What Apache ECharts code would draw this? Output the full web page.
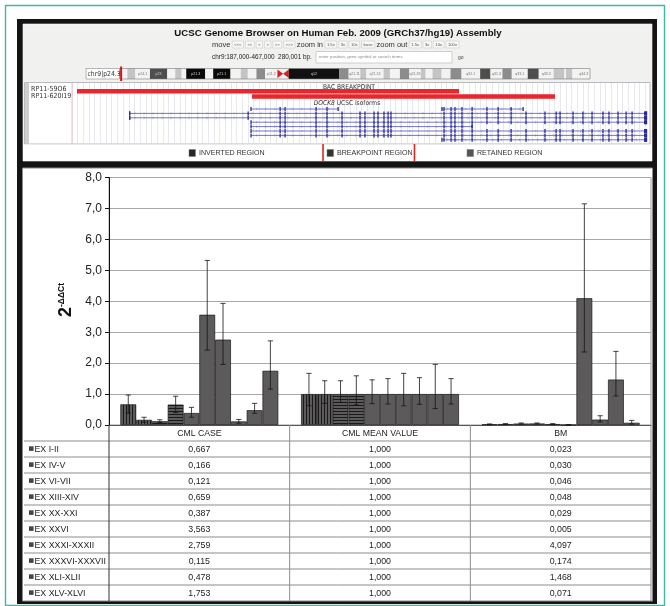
<!DOCTYPE html>
<html><head><meta charset="utf-8">
<script src="https://cdn.jsdelivr.net/npm/echarts@6/dist/echarts.min.js"></script>
<style>html,body{margin:0;padding:0;background:#fff}#c{width:670px;height:606px}</style>
</head><body><div id="c"></div>
<script>
// ---------------- data: qPCR chart ----------------
const categories = ['CML CASE', 'CML MEAN VALUE', 'BM'];
const exonLabels = ['EX I-II', 'EX IV-V', 'EX VI-VII', 'EX XIII-XIV', 'EX XX-XXI', 'EX XXVI',
  'EX XXXI-XXXII', 'EX XXXVI-XXXVII', 'EX XLI-XLII', 'EX XLV-XLVI'];
const cmlCase = [0.667, 0.166, 0.121, 0.659, 0.387, 3.563, 2.759, 0.115, 0.478, 1.753];
const cmlMean = [1.000, 1.000, 1.000, 1.000, 1.000, 1.000, 1.000, 1.000, 1.000, 1.000];
const bm = [0.023, 0.030, 0.046, 0.048, 0.029, 0.005, 4.097, 0.174, 1.468, 0.071];
// error bar ends (upper / lower)
const cmlCaseHigh = [0.97, 0.25, 0.17, 0.93, 0.57, 5.32, 3.93, 0.18, 0.70, 2.72];
const cmlCaseLow = [0.38, 0.09, 0.08, 0.40, 0.25, 2.42, 1.96, 0.06, 0.38, 1.16];
const cmlMeanHigh = [1.67, 1.43, 1.43, 1.59, 1.46, 1.50, 1.67, 1.53, 1.96, 1.50];
const cmlMeanLow = [0.62, 0.70, 0.73, 0.65, 0.69, 0.68, 0.62, 0.67, 0.53, 0.68];
const bmHigh = [0.035, 0.045, 0.065, 0.065, 0.045, 0.012, 7.15, 0.30, 2.38, 0.15];
const bmLow = [0.012, 0.018, 0.030, 0.032, 0.015, 0.002, 2.36, 0.10, 0.94, 0.03];
const yMin = 0, yMax = 8, yInterval = 1;

// ---------------- data: genome browser header ----------------
const viewStartKb = 187, viewEndKb = 467, gridStepKb = 2.75;
const bacClones = [
  { name: 'RP11-59O6', start: 189.4, end: 374.5 },
  { name: 'RP11-620I19', start: 274.2, end: 421.0 }
];
const dock8ExonsKb = [214.9, 272.3, 287.8, 290.2, 305.2, 310.5, 317.8, 326.5, 328.9, 333.3, 335.2, 338.1,
  340.1, 341.5, 367.2, 370.6, 372.5, 375.9, 380.8, 388.0, 393.4, 399.7, 406.9, 416.1, 421.5, 423.4,
  429.7, 434.5, 438.9, 444.2, 447.1, 451.5, 455.4, 458.3, 465.0];
const isoformStart = [273.7, 366.2, 214.9, 214.9, 273.7, 273.7, 273.7, 273.7, 366.2];
const isoformEnd = [315.9, 405.5, 465.3, 465.3, 465.3, 380.8, 465.3, 465.3, 465.3];
const isoformRow = [0, 0, 1, 2, 3, 4, 5, 6, 7];
const regionBoundsKb = [308.6, 352.9];
const legendRegions = ['INVERTED REGION', 'BREAKPOINT REGION', 'RETAINED REGION'];
const chr9LengthMb = 141.2;
const chr9Bands = [
  ['p24.3', 0, 2.2, 'gneg'], ['p24.2', 2.2, 4.6, 'gpos25'], ['p24.1', 4.6, 9.0, 'gneg'],
  ['p23', 9.0, 14.2, 'gpos75'], ['p22.3', 14.2, 16.6, 'gneg'], ['p22.2', 16.6, 18.5, 'gpos25'],
  ['p22.1', 18.5, 19.9, 'gneg'], ['p21.3', 19.9, 25.6, 'gpos100'], ['p21.2', 25.6, 28.0, 'gneg'],
  ['p21.1', 28.0, 33.2, 'gpos100'], ['p13.3', 33.2, 36.3, 'gneg'], ['p13.2', 36.3, 38.4, 'gpos25'],
  ['p13.1', 38.4, 41.0, 'gneg'], ['p12', 41.0, 43.6, 'gpos50'], ['p11.2', 43.6, 47.3, 'gneg'],
  ['p11.1', 47.3, 49.0, 'acenL'], ['q11', 49.0, 50.7, 'acenR'], ['q12', 50.7, 65.9, 'gvar'],
  ['q13', 65.9, 68.7, 'gpos50'], ['q21.11', 68.7, 72.2, 'gneg'], ['q21.12', 72.2, 74.0, 'gpos25'],
  ['q21.13', 74.0, 79.2, 'gneg'], ['q21.2', 79.2, 81.1, 'gpos25'], ['q21.31', 81.1, 84.1, 'gneg'],
  ['q21.32', 84.1, 86.9, 'gpos50'], ['q21.33', 86.9, 90.4, 'gneg'], ['q22.1', 90.4, 91.8, 'gpos25'],
  ['q22.2', 91.8, 93.9, 'gneg'], ['q22.31', 93.9, 96.6, 'gpos25'], ['q22.32', 96.6, 99.3, 'gneg'],
  ['q22.33', 99.3, 102.6, 'gpos50'], ['q31.1', 102.6, 108.2, 'gneg'], ['q31.2', 108.2, 111.3, 'gpos75'],
  ['q31.3', 111.3, 114.9, 'gneg'], ['q32', 114.9, 117.7, 'gpos50'], ['q33.1', 117.7, 122.5, 'gneg'],
  ['q33.2', 122.5, 125.8, 'gpos75'], ['q33.3', 125.8, 130.3, 'gneg'], ['q34.11', 130.3, 133.5, 'gpos25'],
  ['q34.12', 133.5, 134.0, 'gneg'], ['q34.13', 134.0, 135.9, 'gpos25'], ['q34.2', 135.9, 137.4, 'gneg'],
  ['q34.3', 137.4, 141.2, 'gneg']
];

// ---------------- styles ----------------
const FONT = "'Liberation Sans', Arial, Helvetica, sans-serif";
const NARROW = "'Liberation Sans Narrow', 'DejaVu Sans Condensed', 'Liberation Sans', sans-serif";
const TEAL = '#41b7a5';
const seriesPattern = ['v', 'v', 'h', 'h', 's', 's', 's', 's', 's', 's'];
const stainColor = { gneg: '#f3f3f3', gpos25: '#c4c4c4', gpos50: '#8c8c8c', gpos75: '#4e4e4e', gpos100: '#0a0a0a', gvar: '#111', acenL: '#d42020', acenR: '#d42020' };
const CAT_GAP = 0.126;

function stripeCanvas(vertical) {
  const c = document.createElement('canvas'); c.width = 3; c.height = 3;
  const g = c.getContext('2d');
  g.fillStyle = '#5c5a5a'; g.fillRect(0, 0, 3, 3);
  g.fillStyle = '#1a1a1a';
  if (vertical) g.fillRect(0, 0, 1, 3); else g.fillRect(0, 0, 3, 1);
  return c;
}
const vPat = { image: stripeCanvas(true), repeat: 'repeat' };
const hPat = { image: stripeCanvas(false), repeat: 'repeat' };
function barStyle(i) {
  const p = seriesPattern[i];
  return { color: p === 'v' ? vPat : p === 'h' ? hPat : '#5c5a5a', borderColor: '#1a1a1a', borderWidth: 0.7 };
}
const fmt3 = v => v.toFixed(3).replace('.', ',');

const groupsVal = [cmlCase, cmlMean, bm];
const groupsHigh = [cmlCaseHigh, cmlMeanHigh, bmHigh];
const groupsLow = [cmlCaseLow, cmlMeanLow, bmLow];

const barSeries = exonLabels.map((name, i) => ({
  type: 'bar', name, xAxisIndex: 0, yAxisIndex: 0,
  data: groupsVal.map(g => g[i]),
  barGap: '0%', barCategoryGap: (CAT_GAP * 100) + '%',
  itemStyle: barStyle(i), silent: true
}));

const errData = [];
groupsVal.forEach((g, c) => g.forEach((v, i) => errData.push([c, groupsLow[c][i], groupsHigh[c][i], i])));

const errSeries = {
  type: 'custom', xAxisIndex: 0, yAxisIndex: 0, z: 4, silent: true,
  data: errData, encode: { x: 0, y: [1, 2] },
  renderItem: function (params, api) {
    const c = api.value(0), lo = api.value(1), hi = api.value(2), si = api.value(3);
    const pLo = api.coord([c, lo]), pHi = api.coord([c, hi]);
    const band = api.size([1, 0])[0];
    const gw = band * (1 - CAT_GAP), bw = gw / exonLabels.length;
    const x = pLo[0] - gw / 2 + bw * (si + 0.5);
    const cap = 2.6, st = { stroke: '#151515', lineWidth: 0.8 };
    return { type: 'group', children: [
      { type: 'line', shape: { x1: x, y1: pHi[1], x2: x, y2: pLo[1] }, style: st },
      { type: 'line', shape: { x1: x - cap, y1: pHi[1], x2: x + cap, y2: pHi[1] }, style: st },
      { type: 'line', shape: { x1: x - cap, y1: pLo[1], x2: x + cap, y2: pLo[1] }, style: st }
    ]};
  }
};

const bacSeries = {
  type: 'custom', xAxisIndex: 1, yAxisIndex: 1, silent: true, z: 3,
  data: bacClones.map(b => [b.start, b.end, 0]), encode: { x: [0, 1], y: 2 },
  renderItem: function (params, api) {
    const x0 = api.coord([api.value(0), 0])[0], x1 = api.coord([api.value(1), 0])[0];
    const y = params.coordSys.y + 6 + params.dataIndex * 5.2;
    return { type: 'rect', shape: { x: x0, y: y, width: x1 - x0, height: 4.6 }, style: { fill: '#e8262b' } };
  }
};

const isoSeries = {
  type: 'custom', xAxisIndex: 1, yAxisIndex: 1, silent: true, z: 3,
  data: isoformStart.map((s, i) => [s, isoformEnd[i], isoformRow[i]]), encode: { x: [0, 1], y: 2 },
  renderItem: function (params, api) {
    const s = api.value(0), e = api.value(1), row = api.value(2);
    const x0 = api.coord([s, 0])[0], x1 = api.coord([e, 0])[0];
    const y = params.coordSys.y + 26 + row * 4.4;
    const ch = [{ type: 'line', shape: { x1: x0, y1: y, x2: x1, y2: y }, style: { stroke: '#5050bd', lineWidth: 0.8 } }];
    for (let x = x0 + 6; x < x1 - 3; x += 9) {
      ch.push({ type: 'polyline', shape: { points: [[x - 1, y - 1.2], [x + 0.3, y], [x - 1, y + 1.2]] }, style: { stroke: '#6a6ac8', lineWidth: 0.4, fill: null } });
    }
    const ex = dock8ExonsKb.filter(k => k >= s - 1.2 && k <= e + 1.2);
    ex.push(s, e);
    ex.forEach(k => {
      const xx = api.coord([k, 0])[0];
      ch.push({ type: 'rect', shape: { x: xx - 0.6, y: y - 2, width: 1.3, height: 4 }, style: { fill: '#2a2a98' } });
    });
    if (e > 460) ch.push({ type: 'rect', shape: { x: x1 - 2.5, y: y - 2, width: 2.5, height: 4 }, style: { fill: '#2a2a98' } });
    return { type: 'group', children: ch };
  }
};

const regionLineSeries = {
  type: 'custom', xAxisIndex: 1, yAxisIndex: 1, silent: true, z: 6,
  data: regionBoundsKb.map(k => [k, 0]), encode: { x: 0, y: 1 },
  renderItem: function (params, api) {
    const x = api.coord([api.value(0), 0])[0];
    const yb = params.coordSys.y + params.coordSys.height;
    return { type: 'line', shape: { x1: x, y1: yb, x2: x, y2: yb + 17 }, style: { stroke: '#e02424', lineWidth: 1.6 } };
  }
};

const bandSeries = {
  type: 'custom', xAxisIndex: 2, yAxisIndex: 2, silent: true, z: 2,
  data: chr9Bands.map(b => [b[1], b[2], 0]), encode: { x: [0, 1], y: 2 },
  renderItem: function (params, api) {
    const b = chr9Bands[params.dataIndex];
    const x0 = api.coord([b[1], 0])[0], x1 = api.coord([b[2], 0])[0];
    const cs = params.coordSys, y = cs.y, h = cs.height;
    const col = stainColor[b[3]];
    if (b[3] === 'acenL') return { type: 'polygon', shape: { points: [[x0, y + 1], [x1, y + h / 2], [x0, y + h - 1]] }, style: { fill: col } };
    if (b[3] === 'acenR') return { type: 'polygon', shape: { points: [[x1, y + 1], [x0, y + h / 2], [x1, y + h - 1]] }, style: { fill: col } };
    const ch = [{ type: 'rect', shape: { x: x0, y: y, width: x1 - x0, height: h }, style: { fill: col } }];
    if (x1 - x0 > 11) {
      const dark = ['gpos75', 'gpos100', 'gvar', 'gpos50'].indexOf(b[3]) >= 0;
      ch.push({ type: 'text', x: (x0 + x1) / 2, y: y + h / 2, style: { text: b[0], fontSize: 3.6, fontFamily: FONT, fill: dark ? '#cfcfcf' : '#777', align: 'center', verticalAlign: 'middle', textAlign: 'center', textVerticalAlign: 'middle' } });
    }
    return { type: 'group', children: ch };
  }
};

const viewMarkSeries = {
  type: 'custom', xAxisIndex: 2, yAxisIndex: 2, silent: true, z: 5,
  data: [[viewStartKb / 1000, viewEndKb / 1000, 0]], encode: { x: [0, 1], y: 2 },
  renderItem: function (params, api) {
    const x0 = api.coord([api.value(0), 0])[0], x1 = api.coord([api.value(1), 0])[0];
    const cs = params.coordSys;
    return { type: 'rect', shape: { x: x0 - 0.5, y: cs.y - 2, width: Math.max(2, x1 - x0), height: cs.height + 4 }, style: { fill: '#e01010' } };
  }
};

const option = {
  animation: false,
  backgroundColor: '#fff',
  grid: [
    { left: 109, top: 177.5, width: 542, height: 247.5, show: true, borderColor: '#9c9c9c', borderWidth: 1, backgroundColor: 'transparent' },
    { left: 72, top: 83, width: 578, height: 61 },
    { left: 120, top: 68.5, width: 470, height: 10.5 }
  ],
  xAxis: [
    { gridIndex: 0, type: 'category', data: categories, axisLabel: { show: false }, axisTick: { show: false },
      axisLine: { lineStyle: { color: '#a83232', width: 1 } }, splitLine: { show: false } },
    { gridIndex: 1, type: 'value', min: viewStartKb, max: viewEndKb, interval: gridStepKb,
      axisLabel: { show: false }, axisTick: { show: false }, axisLine: { show: false },
      splitLine: { show: true, lineStyle: { color: '#d8d8e2', width: 0.6 } } },
    { gridIndex: 2, type: 'value', min: 0, max: chr9LengthMb, show: false }
  ],
  yAxis: [
    { gridIndex: 0, type: 'value', min: yMin, max: yMax, interval: yInterval,
      axisLine: { show: true, lineStyle: { color: '#111', width: 1 } },
      axisTick: { show: true, length: 4, lineStyle: { color: '#111' } },
      axisLabel: { formatter: v => v.toFixed(1).replace('.', ','), fontSize: 12, color: '#222', margin: 7, fontFamily: FONT },
      splitLine: { show: true, lineStyle: { color: '#a8a8a8', width: 1 } } },
    { gridIndex: 1, type: 'value', min: 0, max: 1, show: false },
    { gridIndex: 2, type: 'value', min: 0, max: 1, show: false }
  ],
  series: [...barSeries, errSeries, bacSeries, isoSeries, regionLineSeries, bandSeries, viewMarkSeries]
};

const chart = echarts.init(document.getElementById('c'));
chart.setOption(option);

// ---------------- graphics: frames, header texts, table ----------------
const G = [];
const al = a => ({ align: a, textAlign: a, verticalAlign: 'middle', textVerticalAlign: 'middle' });
function rect(x, y, w, h, fill, stroke, lw, z) {
  return { type: 'rect', z: z, silent: true, shape: { x, y, width: w, height: h }, style: { fill: fill, stroke: stroke || null, lineWidth: lw || 0 } };
}
function line(x1, y1, x2, y2, stroke, lw, z) {
  return { type: 'line', z: z == null ? 8 : z, silent: true, shape: { x1, y1, x2, y2 }, style: { stroke, lineWidth: lw || 1 } };
}
function text(x, y, t, o) {
  o = o || {};
  return { type: 'text', z: o.z == null ? 10 : o.z, silent: true, x, y,
    style: Object.assign({ text: t, fill: o.fill || '#222', fontSize: o.size || 9, fontFamily: o.family || FONT,
      fontWeight: o.weight || 'normal', fontStyle: o.fstyle || 'normal' }, al(o.align || 'left')) };
}
const mctx = document.createElement('canvas').getContext('2d');
const measure = (t, s, fam, w) => { mctx.font = (w || 'normal') + ' ' + s + 'px ' + (fam || FONT); return mctx.measureText(t).width; };
const fitSize = (t, target, fam, w) => 10 * target / measure(t, 10, fam, w);

// frames
G.push(rect(5.5, 5.5, 659, 600, '#fff', TEAL, 1.4, -20));
G.push(rect(17, 19, 640, 585, '#141414', null, 0, -19));
G.push(rect(23, 24, 629, 137, '#f1f1ef', '#fafafa', 0.6, -18));
G.push(rect(24.5, 82.5, 625.5, 61.5, '#fff', '#a9a9a9', 0.8, -17));
G.push(rect(25, 83, 4, 61, '#cdcdcd', null, 0, -16));
G.push(rect(23, 144.5, 629, 16.5, '#fff', null, 0, -17));
G.push(rect(22.5, 168, 630, 433, '#fff', '#8a8a8a', 1, -18));

// header title and navigation
const titleText = 'UCSC Genome Browser on Human Feb. 2009 (GRCh37/hg19) Assembly';
G.push(text(338, 33.5, titleText, { size: Math.min(11, fitSize(titleText, 328, FONT, 'bold')), weight: 'bold', align: 'center', fill: '#111' }));
const navItems = [['l', 'move'], ['b', '<<<'], ['b', '<<'], ['b', '<'], ['b', '>'], ['b', '>>'], ['b', '>>>'],
  ['l', 'zoom in'], ['b', '1.5x'], ['b', '3x'], ['b', '10x'], ['b', 'base'],
  ['l', 'zoom out'], ['b', '1.5x'], ['b', '3x'], ['b', '10x'], ['b', '100x']];
const navW = navItems.map(it => it[0] === 'l' ? measure(it[1], 7.5) : measure(it[1], 4.2) + 4);
const navStart = 212, navEnd = 459;
const navGap = (navEnd - navStart - navW.reduce((a, b) => a + b, 0)) / (navItems.length - 1);
let nx = navStart;
navItems.forEach((it, i) => {
  if (it[0] === 'l') G.push(text(nx, 44.5, it[1], { size: 7.5, fill: '#333' }));
  else {
    G.push(rect(nx, 41, navW[i], 7, '#f8f8f8', '#c4c4c4', 0.5, 1));
    G.push(text(nx + navW[i] / 2, 44.6, it[1], { size: 4.2, fill: '#555', align: 'center' }));
  }
  nx += navW[i] + navGap;
});
const posText = 'chr9:187,000-467,000  280,001 bp.';
G.push(text(212, 57.5, posText, { size: Math.min(8, fitSize(posText, 100, FONT)), fill: '#222' }));
G.push(rect(316, 51.5, 136, 11.5, '#fff', '#b4b4b4', 0.6, 1));
G.push(text(319, 57.3, 'enter position, gene symbol or search terms', { size: 4.3, fill: '#8a8a8a' }));
G.push(text(458, 57.5, 'go', { size: 5, fill: '#444' }));

// ideogram label and frame
G.push(rect(86, 68.5, 33.5, 10.5, '#fff', '#8a8a8a', 0.6, 1));
G.push(text(87.5, 74, 'chr9|p24.3', { size: 6.8, fill: '#333', family: NARROW }));
G.push(rect(120, 68.5, 470, 10.5, 'transparent', '#7a7a7a', 0.6, 4));

// track labels
const trackLeft = chart.convertToPixel({ xAxisIndex: 1 }, viewStartKb);
G.push(line(trackLeft, 83, trackLeft, 144, '#f2b4b4', 0.8, 1));
bacClones.forEach((b, i) => G.push(text(31, 89.2 + i * 7.4, b.name, { size: 7, fill: '#333', family: NARROW })));
G.push(text(349, 87, 'BAC BREAKPOINT', { size: 6.6, fill: '#333', family: NARROW, align: 'center' }));
G.push({ type: 'text', z: 10, silent: true, x: 347, y: 103.2,
  style: Object.assign({ text: '{i|DOCK8} UCSC isoforms', fontSize: 6.6, fontFamily: NARROW, fill: '#333',
    rich: { i: { fontStyle: 'italic', fontSize: 6.6, fontFamily: NARROW, fill: '#333', color: '#333' } } }, al('center')) });

// legend row
const legendX = [189, 327, 467];
const legendFill = ['#262626', '#333', '#555'];
legendRegions.forEach((t, i) => {
  G.push(rect(legendX[i], 149.5, 6.5, 7, legendFill[i], '#777', 0.5, 2));
  G.push(text(legendX[i] + 10, 153.2, t, { size: 7.1, fill: '#333' }));
});

// y axis name
G.push({ type: 'text', z: 10, silent: true, x: 66, y: 300, rotation: Math.PI / 2,
  style: Object.assign({ text: '{b|2}{s|-ΔΔCt}',
    rich: { b: { fontSize: 18, fontWeight: 'bold', fontFamily: FONT, fill: '#111', color: '#111' },
            s: { fontSize: 8.5, fontWeight: 'bold', fontFamily: FONT, fill: '#111', color: '#111', verticalAlign: 'top' } } }, al('center')) });

// data table
const zeroY = chart.convertToPixel({ yAxisIndex: 0 }, 0);
const rowH = 16;
const centers = categories.map(c => chart.convertToPixel({ xAxisIndex: 0 }, c));
const bandW = centers.length > 1 ? centers[1] - centers[0] : 180;
const colEdges = [centers[0] - bandW / 2].concat(centers.map(c => c + bandW / 2));
const tableLeft = 24, tableRight = colEdges[colEdges.length - 1];
const tableBottom = zeroY + rowH * (exonLabels.length + 1);
for (let k = 1; k <= exonLabels.length; k++) G.push(line(tableLeft, zeroY + rowH * k, tableRight, zeroY + rowH * k, '#8c8c8c', 1));
colEdges.forEach((x, i) => G.push(line(x, zeroY, x, tableBottom, i === 0 ? '#333' : '#8c8c8c', 1)));
categories.forEach((c, i) => G.push(text(centers[i], zeroY + rowH / 2 + 0.5, c, { size: 8.7, align: 'center', fill: '#222' })));
exonLabels.forEach((lab, r) => {
  const yc = zeroY + rowH * (r + 1) + rowH / 2 + 0.3;
  G.push(rect(29, yc - 3, 4.6, 4.6, '#454545', null, 0, 9));
  G.push(text(34.5, yc, lab, { size: 8.8, fill: '#222' }));
  groupsVal.forEach((g, c) => G.push(text(centers[c], yc, fmt3(g[r]), { size: 8.8, align: 'center', fill: '#222' })));
});

chart.setOption({ graphic: G });
</script></body></html>
